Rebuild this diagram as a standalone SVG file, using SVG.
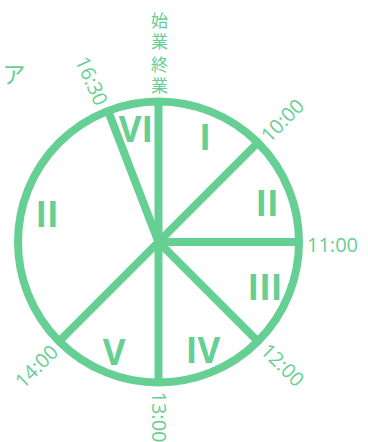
<svg xmlns="http://www.w3.org/2000/svg" width="368" height="442" viewBox="0 0 368 442">
<style>
.ln{stroke:#66cf93;stroke-width:8;fill:none}
.t{fill:#66cf93;font-family:"Open Sans","Noto Sans",sans-serif;font-size:20px;text-anchor:middle}
.r{fill:#66cf93;font-family:"Open Sans","Noto Sans",sans-serif;font-size:35px;font-weight:bold;text-anchor:middle}
.j{fill:#66cf93;font-family:"Noto Sans CJK JP",sans-serif}
.v{writing-mode:vertical-rl;font-size:17px;letter-spacing:4px;text-anchor:start}
</style>
<rect width="368" height="442" fill="#fff"/>
<g id="clock">
<circle class="ln" cx="158.5" cy="242" r="140.5"/>
</g>
<g id="connectors">
<line class="ln" x1="158.5" y1="242" x2="158.5" y2="101.5"/>
<line class="ln" x1="158.5" y1="242" x2="258" y2="142.5"/>
<line class="ln" x1="158.5" y1="242" x2="299" y2="242"/>
<line class="ln" x1="158.5" y1="242" x2="258" y2="341.5"/>
<line class="ln" x1="158.5" y1="242" x2="158.5" y2="382.5"/>
<line class="ln" x1="158.5" y1="242" x2="59" y2="341.5"/>
<line class="ln" x1="158.5" y1="242" x2="108" y2="110.8"/>
</g>
<g id="sectors">
<text class="r" x="136" y="142">VI</text>
<text class="r" x="205" y="150">I</text>
<text class="r" x="267" y="216">II</text>
<text class="r" x="265" y="300">III</text>
<text class="r" x="203" y="363">IV</text>
<text class="r" x="114" y="365">V</text>
<text class="r" x="47" y="227">II</text>
</g>
<g id="labels">
<text class="j v" x="159.5" y="12">始業</text>
<text class="j v" x="159.5" y="56">終業</text>
<text class="j" font-size="23" text-anchor="middle" x="14" y="83">ア</text>
<text class="t" transform="translate(282.5,120.5) rotate(-45)" y="7">10:00</text>
<text class="t" transform="translate(332.5,245)" y="7">11:00</text>
<text class="t" transform="translate(282.5,365) rotate(45)" y="7">12:00</text>
<text class="t" transform="translate(158.5,417) rotate(90)" y="7">13:00</text>
<text class="t" transform="translate(36.5,366.5) rotate(-45)" y="7">14:00</text>
<text class="t" transform="translate(91.5,81) rotate(66)" y="7">16:30</text>
</g>
</svg>
